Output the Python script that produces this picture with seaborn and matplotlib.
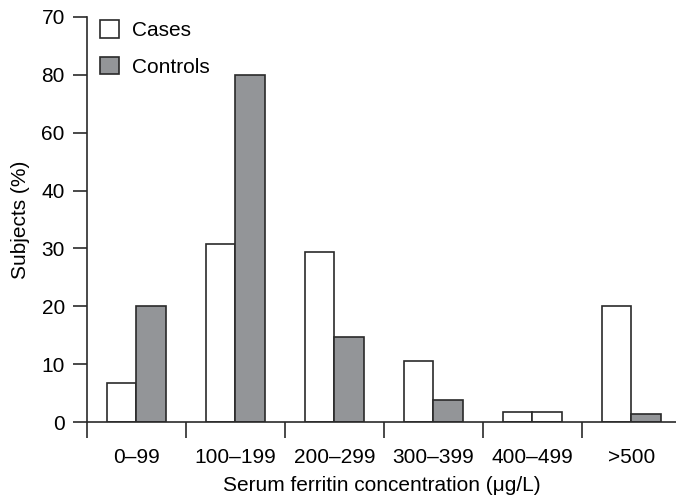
import numpy as np
import pandas as pd
import matplotlib
matplotlib.use("Agg")
import matplotlib.pyplot as plt
import seaborn as sns

# Dados (unidades do eixo)
categorias = ["0–99", "100–199", "200–299", "300–399", "400–499", ">500"]
casos = [6.7, 30.7, 29.3, 10.5, 1.8, 20.0]
controles = [20.0, 60.0, 14.7, 3.8, 1.8, 1.4]
y_ticks = [0, 10, 20, 30, 40, 50, 60, 70]
y_labels = ["0", "10", "20", "30", "40", "60", "80", "70"]

df = pd.DataFrame({
    "Categoria": categorias * 2,
    "Grupo": ["Cases"] * len(categorias) + ["Controls"] * len(categorias),
    "Valor": casos + controles,
})

sns.set_style("ticks")
plt.rcParams["font.family"] = ["Liberation Sans", "DejaVu Sans"]
plt.rcParams["font.size"] = 15
plt.rcParams["text.color"] = "black"
plt.rcParams["axes.labelcolor"] = "black"
plt.rcParams["xtick.labelcolor"] = "black"
plt.rcParams["ytick.labelcolor"] = "black"

cor_linha = "#2a2a2a"

fig = plt.figure(figsize=(6.76, 4.96), dpi=100)
ax = fig.add_axes([87 / 676, 74 / 496, 589 / 676, 405 / 496])

sns.barplot(
    data=df, x="Categoria", y="Valor", hue="Grupo", order=categorias,
    palette={"Cases": "white", "Controls": "#939598"},
    width=0.6, edgecolor=cor_linha, linewidth=1.2, saturation=1,
    ax=ax,
)

# na figura original a barra de controles 400–499 aparece sem preenchimento
ax.containers[1][4].set_facecolor("white")

ax.set_xlim(-0.5, 5.45)
ax.set_ylim(0, 70)
ax.set_yticks(y_ticks, y_labels)

# rótulos no centro, marcas nas divisões
ax.set_xticks(np.arange(-0.5, 5, 1), minor=True)
ax.tick_params(axis="x", which="major", length=0, pad=19, labelsize=15, labelcolor="black")
ax.tick_params(axis="x", which="minor", length=11.5, width=1.2, color=cor_linha, direction="out")
ax.tick_params(axis="y", length=10, width=1.2, color=cor_linha, pad=6, labelsize=15, labelcolor="black")

for lado in ["top", "right"]:
    ax.spines[lado].set_visible(False)
for lado in ["left", "bottom"]:
    ax.spines[lado].set_color(cor_linha)
    ax.spines[lado].set_linewidth(1.2)

ax.set_xlabel("Serum ferritin concentration (μg/L)", fontsize=15, labelpad=6, color="black")
ax.set_ylabel("Subjects (%)", fontsize=15, labelpad=8, color="black")

handles, labels = ax.get_legend_handles_labels()
leg = ax.legend(
    handles, labels, loc="upper left",
    bbox_to_anchor=(100 / 676, 1 - 20 / 496), bbox_transform=fig.transFigure,
    frameon=False, fontsize=15, handlelength=0.92, handleheight=0.92,
    handletextpad=0.6, labelspacing=0.8, borderpad=0, borderaxespad=0,
)
for t in leg.get_texts():
    t.set_color("black")

fig.savefig("out.png", dpi=100)
